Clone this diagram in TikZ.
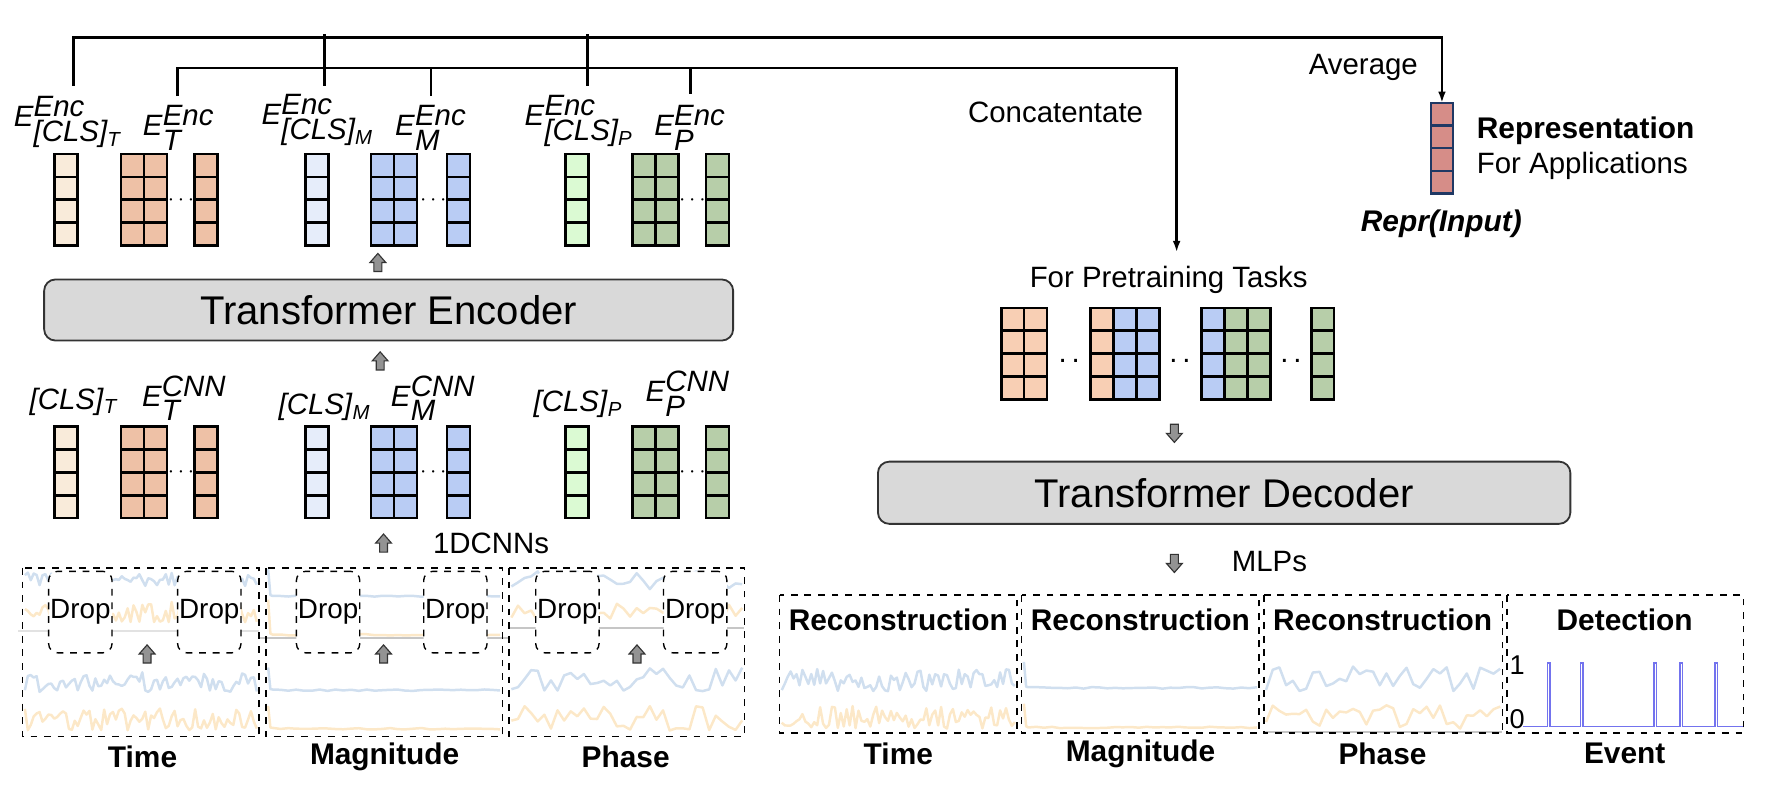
\documentclass[tikz,border=0pt]{standalone}
\usepackage{fontspec}
\setmainfont{Liberation Sans}
\usetikzlibrary{arrows.meta}

\definecolor{clsT}{RGB}{249,235,218}
\definecolor{embT}{RGB}{238,193,166}
\definecolor{clsM}{RGB}{230,237,250}
\definecolor{embM}{RGB}{185,204,244}
\definecolor{clsP}{RGB}{219,250,211}
\definecolor{embP}{RGB}{183,206,169}
\definecolor{preT}{RGB}{248,207,180}
\definecolor{reprC}{RGB}{214,141,136}
\definecolor{reprB}{RGB}{31,56,100}
\definecolor{boxgray}{RGB}{217,217,217}
\definecolor{sigB}{RGB}{170,196,226}
\definecolor{sigO}{RGB}{250,214,155}
\definecolor{spikeC}{RGB}{115,115,238}

\newcommand{\fsz}[1]{\fontsize{#1}{#1}\selectfont}
\newcommand{\clstok}[1]{\textit{[CLS]}$_{\textit{\fsz{9}#1}}$}
\newcommand{\emb}[2]{\textit{E}$^{\textit{#1}}_{\textit{#2}}$}
% one column of four cells: x, top y, fill
\newcommand{\cellcol}[3]{\foreach \k in {0,...,3}{\draw[gridcell,fill=#3] (#1,{#2+20.25*\k}) rectangle ++(20.3,20.25);}}
\newcommand{\bigcol}[3]{\cellcol{#1}{#2}{#3}\cellcol{#1+20.3}{#2}{#3}}
% noisy trace: style, from x, to x, mid y, amplitude, samples
\newcommand{\noise}[6]{\draw[#1] plot[domain=#2:#3,samples=#6] (\x,{#4+#5*rand});}

\tikzset{
  uparr/.pic={\draw[fill=gray!85,draw=gray!40!black,line width=0.5pt]
    (-3.5,8) -- (-3.5,0) -- (-7,0) -- (0,-8) -- (7,0) -- (3.5,0) -- (3.5,8) -- cycle;}
}

\begin{document}
\begin{tikzpicture}[x=0.5pt,y=-0.5pt,
  bus/.style={line width=1.2pt},
  gridcell/.style={line width=1.1pt,draw=black},
  lbl/.style={font=\fsz{13},inner sep=0pt},
  bold/.style={font=\fsz{13.2}\bfseries,inner sep=0pt},
  block/.style={draw=gray!40!black,fill=boxgray,rounded corners=5pt,line width=0.8pt,font=\fsz{17.7}},
  panel/.style={draw=black,dashed,line width=0.7pt},
  dropbox/.style={draw=black,dashed,fill=white,rounded corners=4pt,line width=0.6pt,
    minimum width=28pt,minimum height=36pt,inner sep=0pt,font=\fsz{12.3}},
  sigblue/.style={sigB,line width=1.1pt,opacity=0.55,line join=round},
  sigorange/.style={sigO,line width=1.1pt,opacity=0.55,line join=round},
  zeroline/.style={gray!45,line width=0.8pt}]
\useasboundingbox (0,0) rectangle (1568,693);
\pgfmathsetseed{17}

%% input panels with traces
\noise{sigblue}{22}{227}{512}{6}{80}
\noise{sigorange}{22}{227}{541}{9}{80}
\draw[zeroline,opacity=0.5] (16,558) -- (229,558);
\noise{sigblue}{22}{227}{603}{9}{80}
\noise{sigorange}{22}{227}{636}{10}{80}
% magnitude
\draw[sigblue] (237,503) -- (239,526) -- plot[domain=241:442,samples=30] (\x,{527+0.7*rand});
\draw[sigorange] (237,530) -- (239,560) -- plot[domain=241:442,samples=30] (\x,{561+0.7*rand});
\draw[zeroline] (229,564) -- (450,564);
\draw[sigblue] (237,590) -- (239,609) -- plot[domain=241:442,samples=30] (\x,{610+0.7*rand});
\draw[sigorange] (237,624) -- (239,643) -- plot[domain=241:442,samples=30] (\x,{644+0.7*rand});
% phase
\noise{sigblue}{452}{656}{513}{8}{36}
\noise{sigorange}{452}{656}{541}{8}{36}
\draw[zeroline] (450,555) -- (658,555);
\noise{sigblue}{452}{656}{600}{11}{36}
\noise{sigorange}{452}{656}{635}{11}{36}

\draw[panel] (20,502) rectangle (229,651);
\draw[panel] (235,502) rectangle (444,651);
\draw[panel] (450,502) rectangle (658,651);

\node[dropbox] (dT1) at (71,541) {Drop};
\node[dropbox] (dT2) at (185,541) {Drop};
\node[dropbox] (dM1) at (290,541) {Drop};
\node[dropbox] (dM2) at (402.5,541) {Drop};
\node[dropbox] (dP1) at (501.5,541) {Drop};
\node[dropbox] (dP2) at (614.5,541) {Drop};
\pic (aT) at (130,578) {uparr};
\pic (aM) at (339,578) {uparr};
\pic (aP) at (563,578) {uparr};

\node[bold] (inT) at (126,669) {Time};
\node[bold] (inM) at (340,669) {Magnitude};
\node[bold] (inP) at (553,669) {Phase};

%% CNN tokens
\pic (acnn) at (339,480) {uparr};
\node[lbl] (cnn) at (434,480) {1DCNNs};
\cellcol{48}{377}{clsT}
\bigcol{107}{377}{embT}
\cellcol{172}{377}{embT}
\cellcol{270}{377}{clsM}
\bigcol{328}{377}{embM}
\cellcol{395}{377}{embM}
\cellcol{500}{377}{clsP}
\bigcol{559}{377}{embP}
\cellcol{624}{377}{embP}
\node[lbl] at (160,418) {\fsz{10}$\cdots$};
\node[lbl] at (383,418) {\fsz{10}$\cdots$};
\node[lbl] at (612,418) {\fsz{10}$\cdots$};
\node[lbl] (cCT) at (65,355) {\clstok{T}};
\node[lbl] (cT) at (163,352) {\emb{CNN}{T}};
\node[lbl] (cCM) at (287,360) {\clstok{M}};
\node[lbl] (cM) at (383,352) {\emb{CNN}{M}};
\node[lbl] (cCP) at (511,357) {\clstok{P}};
\node[lbl] (cP) at (608,348) {\emb{CNN}{P}};

%% encoder
\pic (ain) at (336,319) {uparr};
\node[block,minimum width=304.5pt,minimum height=27pt] (enc) at (343.5,274) {Transformer Encoder};
\pic (aout) at (334,232) {uparr};

\cellcol{48}{136}{clsT}
\bigcol{107}{136}{embT}
\cellcol{172}{136}{embT}
\cellcol{270}{136}{clsM}
\bigcol{328}{136}{embM}
\cellcol{395}{136}{embM}
\cellcol{500}{136}{clsP}
\bigcol{559}{136}{embP}
\cellcol{624}{136}{embP}
\node[lbl] at (160,177) {\fsz{10}$\cdots$};
\node[lbl] at (383,177) {\fsz{10}$\cdots$};
\node[lbl] at (612,177) {\fsz{10}$\cdots$};
\node[lbl] (eCT) at (60,108) {\emb{Enc}{\clstok{T}}};
\node[lbl] (eT) at (158,113) {\emb{Enc}{T}};
\node[lbl] (eCM) at (281,106) {\emb{Enc}{\clstok{M}}};
\node[lbl] (eM) at (381,113) {\emb{Enc}{M}};
\node[lbl] (eCP) at (512,107) {\emb{Enc}{\clstok{P}}};
\node[lbl] (eP) at (610,113) {\emb{Enc}{P}};

%% buses
\coordinate (sCT) at (65,76);
\coordinate (sCM) at (287,76);
\coordinate (sCP) at (519,76);
\coordinate (sT) at (157,85);
\coordinate (sM) at (381,85);
\coordinate (sP) at (610,83);
\coordinate (reprtop) at (1274.5,91);
\coordinate (pretop) at (1040,223);
\draw[bus,-{Latex[length=5pt,width=3.4pt]}] (sCT) |- (reprtop |- 0,33) -- (reprtop);
\draw[bus] (sCM) -- (sCM |- 0,30);
\draw[bus] (sCP) -- (sCP |- 0,30);
\draw[bus,-{Latex[length=5pt,width=3.4pt]}] (sT) |- (pretop |- 0,60) -- (pretop);
\draw[bus] (sM) -- (sM |- 0,60);
\draw[bus] (sP) -- (sP |- 0,60);
\node[lbl] (avg) at (1205,60) {Average};
\node[lbl] (cat) at (933,99) {Concatentate};

%% representation
\foreach \k in {0,...,3}{\draw[line width=1pt,draw=reprB,fill=reprC] (1265,{91+20*\k}) rectangle ++(19.5,20);}
\node[bold,anchor=west] (rep) at (1305,116) {Representation};
\node[lbl,anchor=west] (app) at (1305,147) {For Applications};
\node[bold] (repin) at (1274,198) {\textit{Repr(Input)}};

%% pretraining tokens
\node[lbl] (pre) at (1033,247) {For Pretraining Tasks};
\bigcol{885}{272}{preT}
\cellcol{964}{272}{preT}
\bigcol{984.3}{272}{embM}
\cellcol{1062}{272}{embM}
\bigcol{1082.3}{272}{embP}
\cellcol{1159}{272}{embP}
\node[lbl] at (945,319) {.\,.};
\node[lbl] at (1043,319) {.\,.};
\node[lbl] at (1141,319) {.\,.};

%% decoder
\pic[rotate=180] (adec) at (1038,383) {uparr};
\node[block,minimum width=306pt,minimum height=27.5pt] (dec) at (1082,435.5) {Transformer Decoder};
\pic[rotate=180] (amlp) at (1038,498) {uparr};
\node[lbl] (mlp) at (1122,496) {MLPs};

%% output panels
\noise{sigblue}{691}{897}{601}{10}{80}
\noise{sigorange}{691}{897}{634}{10}{80}
\draw[sigblue] (905,585) -- (907,607) -- plot[domain=909:1111,samples=30] (\x,{608+0.7*rand});
\draw[sigorange] (905,622) -- (907,642) -- plot[domain=909:1111,samples=30] (\x,{643+0.7*rand});
\noise{sigblue}{1119}{1326}{600}{11}{36}
\noise{sigorange}{1119}{1326}{634}{11}{36}
\draw[zeroline] (1117,647) -- (1328,647);
\draw[spikeC,line width=0.7pt] (1346,642) foreach \s in {1369,1398,1463,1486,1517}{ -- ({\s-1.2},642) -- ({\s-1.2},586) -- ({\s+1.2},586) -- ({\s+1.2},642)} -- (1541,642);
\node[font=\fsz{12},inner sep=0pt] (one) at (1341,588) {1};
\node[font=\fsz{12},inner sep=0pt] (zero) at (1341,636) {0};

\draw[panel] (689,526) rectangle (899,648);
\draw[panel] (903,526) rectangle (1113,648);
\draw[panel] (1117,526) rectangle (1328,648);
\draw[panel] (1332,526) rectangle (1541,648);
\node[bold] (rT) at (794,548) {Reconstruction};
\node[bold] (rM) at (1008,548) {Reconstruction};
\node[bold] (rP) at (1222,548) {Reconstruction};
\node[bold] (rE) at (1436,548) {Detection};
\node[bold] (oT) at (794,666) {Time};
\node[bold] (oM) at (1008,666) {Magnitude};
\node[bold] (oP) at (1222,666) {Phase};
\node[bold] (oE) at (1436,666) {Event};
\end{tikzpicture}
\end{document}
